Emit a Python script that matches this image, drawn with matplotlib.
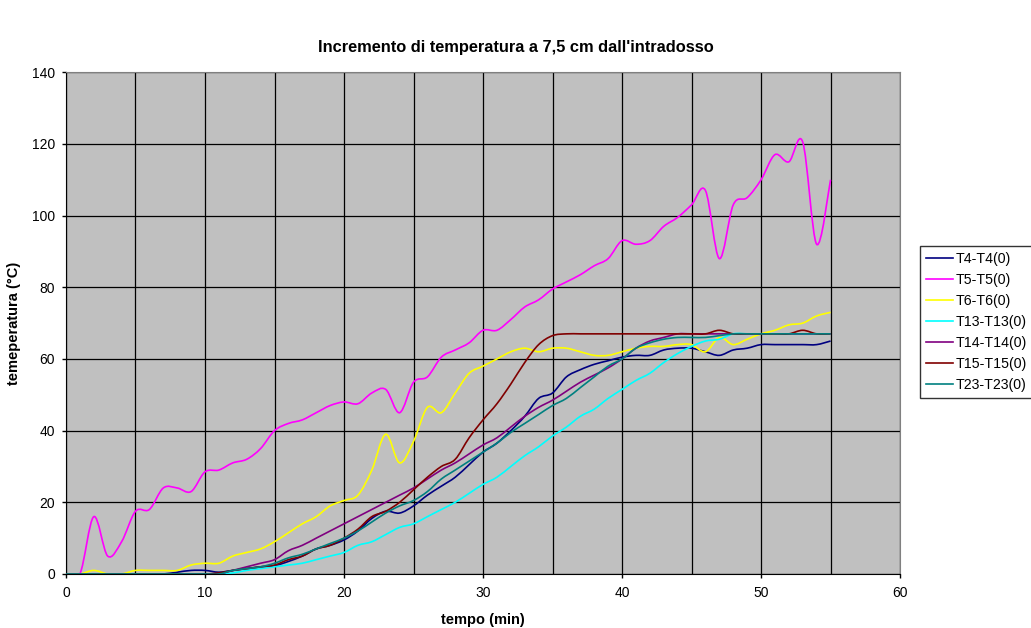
import numpy as np
import matplotlib.pyplot as plt
from matplotlib.path import Path
from matplotlib.patches import PathPatch
from matplotlib.lines import Line2D

plt.rcParams['font.family'] = ['Liberation Sans', 'DejaVu Sans']

# tempo (min), one reading per minute
tempo = list(range(0, 56))

t4 = [0, 0, 0, 0, 0, 0, 0, 0, 0.5, 1, 1, 0.5, 1, 1.5, 2, 2.3, 3.5, 5, 7, 8,
      9.5, 12, 15.5, 17.5, 17, 19, 22, 24.5, 27, 30.5, 34, 36.5, 40, 44, 49, 50.5,
      55, 57, 58.5, 59.5, 60.5, 61, 61, 62.5, 63, 63, 62, 61, 62.5, 63,
      64, 64, 64, 64, 64, 65]
t5 = [0, 0, 16, 5, 9, 17.5, 18, 24, 24, 23, 28.5, 29, 31, 32, 35, 40, 42, 43, 45, 47,
      48, 47.5, 50.5, 51.5, 45, 53.5, 55, 60.5, 62.5, 64.5, 68, 68, 71, 74.5, 76.5, 79.5,
      81.5, 83.5, 86, 88, 93, 92, 93, 97, 99.5, 103, 107, 88, 103, 105,
      110, 117, 115, 120.5, 92, 110]
t6 = [0, 0, 1, 0, 0, 1, 1, 1, 1, 2.5, 3, 3, 5, 6, 7, 9, 11.5, 14, 16, 19,
      20.5, 22, 29, 39, 31, 37, 46.5, 45, 50.5, 56, 58, 60, 62, 63, 62, 63,
      63, 62, 61, 61, 62, 63, 63.5, 63.5, 64, 64, 62, 66, 64, 65.5,
      67, 68, 69.5, 70, 72, 73]
t13 = [0, 0, 0, 0, 0, 0, 0, 0, 0, 0, 0, 0, 0.3, 1, 1.5, 2, 2.5, 3, 4, 5,
       6, 8, 9, 11, 13, 14, 16, 18, 20, 22.5, 25, 27, 30, 33, 35.5, 38.5,
       41, 44, 46, 49, 51.5, 54, 56, 59, 61.5, 63.5, 65, 65.5, 67, 67,
       67, 67, 67, 67, 67, 67]
t14 = [0, 0, 0, 0, 0, 0, 0, 0, 0, 0, 0, 0, 1, 2, 3, 4, 6.5, 8, 10, 12,
       14, 16, 18, 20, 22, 24, 26.5, 29, 31, 33.5, 36, 38, 41, 44, 46.5, 48.5,
       51, 53.5, 55.5, 57.5, 60, 63, 65, 66, 67, 67, 67, 67, 67, 67,
       67, 67, 67, 67, 67, 67]
t15 = [0, 0, 0, 0, 0, 0, 0, 0, 0, 0, 0, 0.3, 1, 1.5, 2, 2.5, 4, 5, 7, 8,
       10, 12.5, 16, 17.5, 20, 23.5, 27, 30, 32, 38, 43, 47.5, 53, 59, 64, 66.5,
       67, 67, 67, 67, 67, 67, 67, 67, 67, 67, 67, 68, 67, 67,
       67, 67, 67, 68, 67, 67]
t23 = [0, 0, 0, 0, 0, 0, 0, 0, 0, 0, 0, 0, 1, 1.5, 2, 3, 4.5, 5.5, 7, 8.5,
       10, 12, 14.5, 17, 19, 20.5, 23, 26.5, 29, 31.5, 34, 36.5, 39.5, 42, 44.5, 47,
       49, 52, 55, 58, 60, 63, 64.5, 65.5, 66, 66, 66, 66.5, 67, 67,
       67, 67, 67, 67, 67, 67]

labels = ['T4-T4(0)', 'T5-T5(0)', 'T6-T6(0)', 'T13-T13(0)',
          'T14-T14(0)', 'T15-T15(0)', 'T23-T23(0)']
colors = ['#000080', '#FF00FF', '#FFFF00', '#00FFFF',
          '#800080', '#800000', '#008080']
series = [t4, t5, t6, t13, t14, t15, t23]


def smooth_path(x, y):
    """Curva liscia (stile Excel) con segmenti di Bezier"""
    p = np.column_stack([x, y]).astype(float)
    verts = [p[0]]
    codes = [Path.MOVETO]
    n = len(p)
    for i in range(n - 1):
        p0 = p[i - 1] if i > 0 else p[i]
        p3 = p[i + 2] if i + 2 < n else p[i + 1]
        c1 = p[i] + (p[i + 1] - p0) / 6
        c2 = p[i + 1] - (p3 - p[i]) / 6
        verts += [c1, c2, p[i + 1]]
        codes += [Path.CURVE4] * 3
    return Path(verts, codes)


fig = plt.figure(figsize=(10.31, 6.28), dpi=100)
ax = fig.add_axes([0.064, 0.086, 0.809, 0.799])
ax.set_facecolor('#C0C0C0')

for ys, c in zip(series, colors):
    ax.add_patch(PathPatch(smooth_path(tempo, ys), facecolor='none',
                           edgecolor=c, lw=1.2, zorder=3))

ax.set_xlim(0, 60)
ax.set_ylim(0, 140)
ax.set_xticks(range(0, 61, 10))
ax.set_xticks(range(5, 60, 10), minor=True)
ax.set_yticks(range(0, 141, 20))
ax.grid(True, which='both', color='black', lw=0.9, zorder=1)
ax.set_axisbelow(True)
ax.tick_params(axis='both', which='major', labelsize=10, length=3, width=1, color='black')
ax.tick_params(axis='x', which='major', pad=6)
ax.tick_params(axis='y', which='major', pad=5)
ax.tick_params(axis='x', which='minor', length=0)
for s in ['top', 'right']:
    ax.spines[s].set_color('#808080')
for s in ['left', 'bottom']:
    ax.spines[s].set_color('black')

ax.set_xlabel('tempo (min)', fontsize=10.5, fontweight='bold', labelpad=9)
ax.set_ylabel('temeperatura (°C)', fontsize=10.5, fontweight='bold', labelpad=8)
fig.text(0.5, 0.925, "Incremento di temperatura a 7,5 cm dall'intradosso",
         ha='center', va='center', fontsize=11.8, fontweight='bold')

handles = [Line2D([], [], color=c, lw=1.2) for c in colors]
leg = fig.legend(handles, labels, loc='upper left',
                 bbox_to_anchor=(920 / 1031, 1 - 246 / 628),
                 fontsize=10.2, frameon=True, fancybox=False, borderaxespad=0,
                 handlelength=1.9, handletextpad=0.2, labelspacing=0.5,
                 borderpad=0.4)
leg.get_frame().set_edgecolor('black')
leg.get_frame().set_linewidth(1)

plt.savefig('out.png', dpi=100)
plt.close()
